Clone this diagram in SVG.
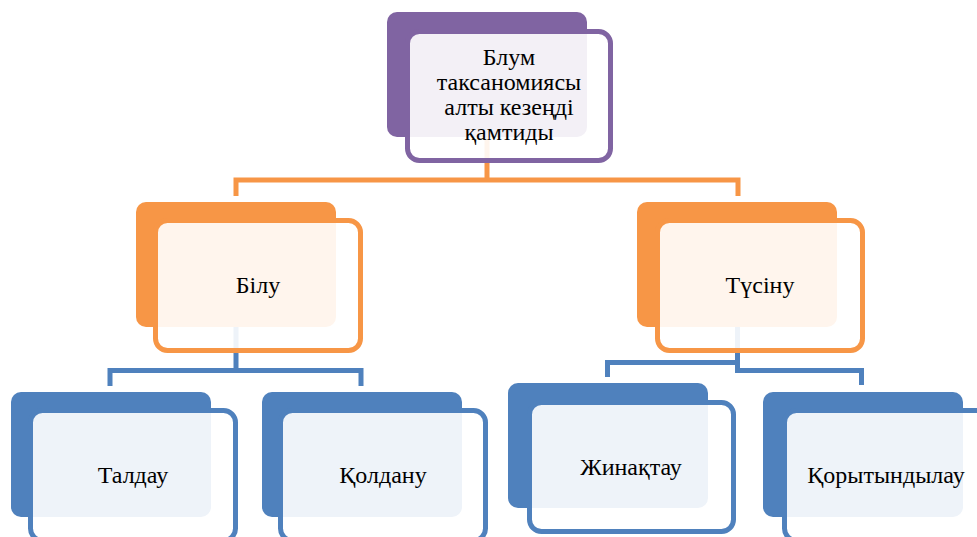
<svg xmlns="http://www.w3.org/2000/svg" width="977" height="537" viewBox="0 0 977 537">
<style>
.bg{stroke:none}
.fr{fill:#ffffff;fill-opacity:0.9;stroke-width:5}
.t{font-size:24px;fill:#000;text-anchor:middle}
.c{fill:none;stroke-width:5;stroke-linejoin:miter}
.pu{fill:#8064a2}.or{fill:#f79646}.bl{fill:#4f81bd}
.spu{stroke:#8064a2}.sor{stroke:#f79646}.sbl{stroke:#4f81bd}
</style>
<rect width="977" height="537" fill="#ffffff"/>
<g id="connectors">
<path class="c sor" d="M236,196 V180 H738 V196 M487,137 V180"/>
<path class="c sbl" d="M236,327 V370.5 H110 V386 M236,370.5 H361 V386"/>
<path class="c sbl" d="M737.5,327 V370.5 H861.5 V385 M737.5,362.5 H607.5 V377"/>
</g>
<g font-family="Liberation Serif, DejaVu Serif, serif">
<g id="node-top">
<rect class="bg pu" x="387" y="12" width="200" height="125" rx="10"/>
<rect class="fr spu" x="407.5" y="31.5" width="203" height="129" rx="12"/>
<text class="t" x="509" y="65">Блум</text>
<text class="t" x="509" y="90">таксаномиясы</text>
<text class="t" x="509" y="115">алты кезеңді</text>
<text class="t" x="509" y="140">қамтиды</text>
</g>
<g id="node-bilu">
<rect class="bg or" x="136" y="202" width="200" height="125" rx="10"/>
<rect class="fr sor" x="155.5" y="220.5" width="205" height="130" rx="12"/>
<text class="t" x="258" y="293">Білу</text>
</g>
<g id="node-tusinu">
<rect class="bg or" x="637" y="202" width="200" height="125" rx="10"/>
<rect class="fr sor" x="657.5" y="220.5" width="205" height="130" rx="12"/>
<text class="t" x="760" y="293">Түсіну</text>
</g>
<g id="node-taldau">
<rect class="bg bl" x="11" y="392" width="200" height="125" rx="10"/>
<rect class="fr sbl" x="30.5" y="410.5" width="205" height="130" rx="12"/>
<text class="t" x="133" y="483">Талдау</text>
</g>
<g id="node-koldanu">
<rect class="bg bl" x="262" y="392" width="200" height="125" rx="10"/>
<rect class="fr sbl" x="280.5" y="410.5" width="205" height="130" rx="12"/>
<text class="t" x="383" y="483">Қолдану</text>
</g>
<g id="node-zhinaktau">
<rect class="bg bl" x="508" y="383" width="200" height="125" rx="10"/>
<rect class="fr sbl" x="529.5" y="402.5" width="204" height="129" rx="12"/>
<text class="t" x="631" y="475">Жинақтау</text>
</g>
<g id="node-korytyndylau">
<rect class="bg bl" x="763" y="392" width="200" height="125" rx="10"/>
<rect class="fr sbl" x="784.5" y="410.5" width="205" height="130" rx="12"/>
<text class="t" x="886" y="483">Қорытындылау</text>
</g>
</g>
</svg>
